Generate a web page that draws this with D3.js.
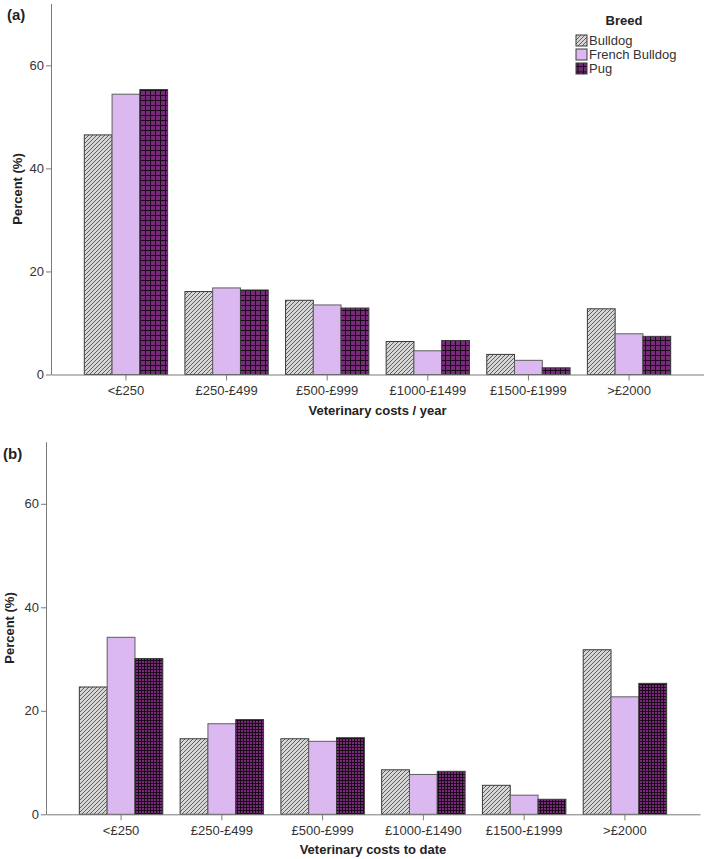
<!DOCTYPE html>
<html>
<head>
<meta charset="utf-8">
<script src="https://cdn.jsdelivr.net/npm/d3@7"></script>
<style>
  html, body { margin: 0; padding: 0; background: #fff; }
  svg { display: block; font-family: "Liberation Sans", Arial, sans-serif; }
</style>
</head>
<body>
<svg id="chart" width="704" height="859"></svg>
<script>
// ---------------- DATA ----------------
const breeds = ["Bulldog", "French Bulldog", "Pug"];
const categoriesA = ["<£250", "£250-£499", "£500-£999", "£1000-£1499", "£1500-£1999", ">£2000"];
const categoriesB = ["<£250", "£250-£499", "£500-£999", "£1000-£1490", "£1500-£1999", ">£2000"];
const bulldogA = [46.5, 16.1, 14.4, 6.4, 3.9, 12.75];
const frenchA  = [54.4, 16.8, 13.5, 4.6, 2.75, 7.9];
const pugA     = [55.3, 16.4, 12.9, 6.6, 1.3, 7.4];
const bulldogB = [24.6, 14.6, 14.6, 8.6, 5.6, 31.8];
const frenchB  = [34.2, 17.5, 14.1, 7.7, 3.7, 22.7];
const pugB     = [30.1, 18.3, 14.8, 8.3, 2.9, 25.3];
const yTicks = [0, 20, 40, 60];
const yMax = 72;

// ---------------- SETUP ----------------
const svg = d3.select("#chart");
const defs = svg.append("defs");

// Bulldog hatch
const hatch = defs.append("pattern").attr("id", "hatch")
  .attr("patternUnits", "userSpaceOnUse").attr("width", 4).attr("height", 4);
hatch.append("rect").attr("width", 4).attr("height", 4).attr("fill", "#d6d6d6");
hatch.append("path").attr("d", "M-1,1 l2,-2 M0,4 l4,-4 M3,5 l2,-2")
  .attr("stroke", "#4a4a4a").attr("stroke-width", 0.85);

// Pug grids
function gridPattern(id, size, fill) {
  const p = defs.append("pattern").attr("id", id)
    .attr("patternUnits", "userSpaceOnUse").attr("width", size).attr("height", size);
  p.append("rect").attr("width", size).attr("height", size).attr("fill", fill);
  p.append("path").attr("d", `M0,0.5 H${size} M0.5,0 V${size}`)
    .attr("stroke", "#1a0a1a").attr("stroke-width", 1).attr("shape-rendering", "crispEdges");
}
gridPattern("gridA", 5, "#772b7a");
gridPattern("gridB", 3, "#7a2a7a");
gridPattern("gridL", 5.5, "#6e2a72");

const fillsA = ["url(#hatch)", "#dcb8f0", "url(#gridA)"];
const fillsB = ["url(#hatch)", "#dcb8f0", "url(#gridB)"];

function drawPanel(cfg) {
  const g = svg.append("g");
  const x = d3.scaleBand().domain(cfg.categories)
    .range([cfg.left, cfg.right]).paddingInner(0.172).paddingOuter(0.331);
  const x1 = d3.scaleBand().domain(breeds).range([0, x.bandwidth()]);
  const y = d3.scaleLinear().domain([0, yMax]).range([cfg.bottom, cfg.top]);

  const series = [cfg.bulldog, cfg.french, cfg.pug];
  breeds.forEach((b, si) => {
    g.append("g").selectAll("rect")
      .data(series[si])
      .join("rect")
      .attr("x", (d, i) => x(cfg.categories[i]) + x1(b))
      .attr("y", d => y(d))
      .attr("width", x1.bandwidth())
      .attr("height", d => y(0) - y(d))
      .attr("fill", cfg.fills[si])
      .attr("stroke", si === 1 ? "#5e5e5e" : "#3a3a3a")
      .attr("stroke-width", 1);
  });

  // Y axis
  const ya = g.append("g").attr("transform", `translate(${cfg.left},0)`)
    .call(d3.axisLeft(y).tickValues(yTicks).tickSize(5).tickPadding(2).tickSizeOuter(0));
  ya.select(".domain").attr("stroke", "#7a7a7a");
  ya.selectAll(".tick line").attr("stroke", "#7a7a7a");
  ya.selectAll(".tick text").attr("fill", "#333").style("font-size", "13px")
    .style("font-family", "'Liberation Sans', Arial, sans-serif");

  // X axis
  const xa = g.append("g").attr("transform", `translate(0,${cfg.bottom})`)
    .call(d3.axisBottom(x).tickSize(6).tickPadding(5).tickSizeOuter(0));
  xa.select(".domain").attr("stroke", "#7a7a7a");
  xa.selectAll(".tick line").attr("stroke", "#7a7a7a");
  xa.selectAll(".tick text").attr("fill", "#333").style("font-size", "13px")
    .style("font-family", "'Liberation Sans', Arial, sans-serif");

  // Titles
  g.append("text").attr("x", (cfg.left + cfg.right) / 2).attr("y", cfg.bottom + 40)
    .attr("text-anchor", "middle").attr("font-weight", "bold").attr("font-size", 13)
    .attr("fill", "#222").text(cfg.xTitle);
  g.append("text")
    .attr("transform", `translate(${cfg.yTitleX},${(cfg.top + cfg.bottom) / 2}) rotate(-90)`)
    .attr("text-anchor", "middle").attr("font-weight", "bold").attr("font-size", 13)
    .attr("fill", "#222").text("Percent (%)");
  g.append("text").attr("x", cfg.labelX).attr("y", cfg.labelY)
    .attr("font-weight", "bold").attr("font-size", 15).attr("fill", "#222").text(cfg.label);
}

drawPanel({
  categories: categoriesA, bulldog: bulldogA, french: frenchA, pug: pugA, fills: fillsA,
  left: 51, right: 704, top: 3.5, bottom: 374.5,
  xTitle: "Veterinary costs / year", yTitleX: 22, label: "(a)", labelX: 7, labelY: 20
});
drawPanel({
  categories: categoriesB, bulldog: bulldogB, french: frenchB, pug: pugB, fills: fillsB,
  left: 46, right: 700, top: 441.7, bottom: 814.3,
  xTitle: "Veterinary costs to date", yTitleX: 14, label: "(b)", labelX: 3, labelY: 458.5
});

// Legend
const legend = svg.append("g");
legend.append("text").attr("x", 624).attr("y", 24.5).attr("text-anchor", "middle")
  .attr("font-weight", "bold").attr("font-size", 13).attr("fill", "#222").text("Breed");
const legendFills = ["url(#hatch)", "#dcb8f0", "url(#gridL)"];
breeds.forEach((b, i) => {
  const yy = 35 + i * 14;
  legend.append("rect").attr("x", 576).attr("y", yy).attr("width", 11).attr("height", 11)
    .attr("fill", legendFills[i]).attr("stroke", "#3a3a3a").attr("stroke-width", 1);
  legend.append("text").attr("x", 589).attr("y", yy + 10).attr("font-size", 13)
    .attr("fill", "#333").text(b);
});
</script>
</body>
</html>
